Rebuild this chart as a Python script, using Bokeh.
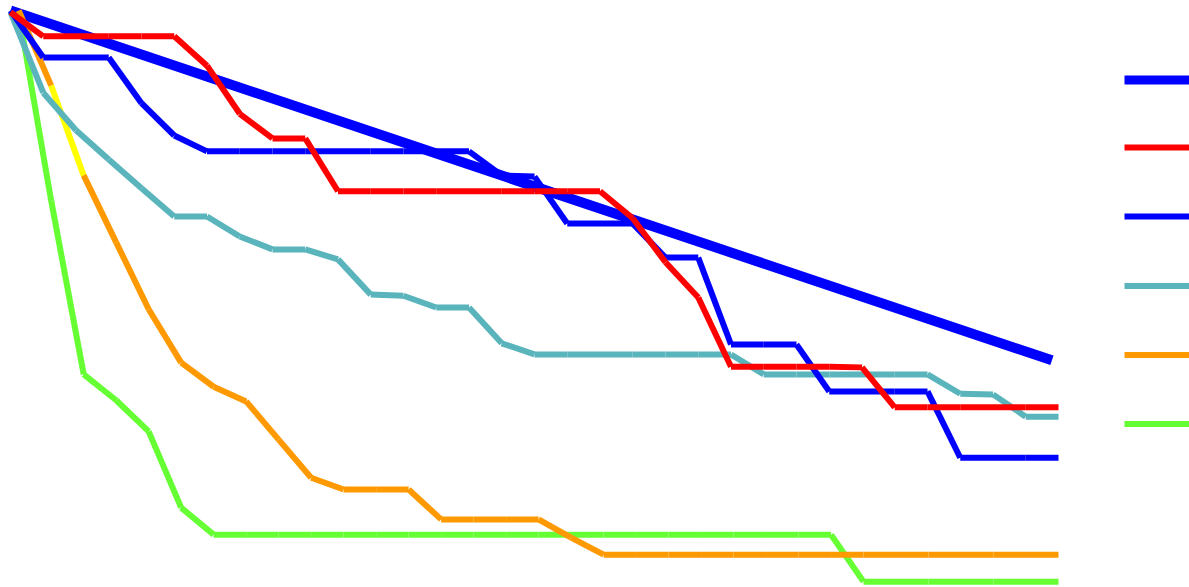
from bokeh.plotting import figure
from bokeh.models import Range1d, ColumnDataSource
from bokeh.embed import file_html
from bokeh.resources import INLINE

# ---- data (values on a 0-100 scale) ----
steps = list(range(33))
steps_late = [0.25 + j * 31.75 / 32 for j in range(33)]

trend_x = [0, 31.8]
trend_y = [98.3, 38.7]

red_y = [98.0, 93.9, 93.9, 93.9, 93.9, 93.9, 88.9, 80.7, 76.5, 76.5, 67.5, 67.5,
         67.5, 67.5, 67.5, 67.5, 67.5, 67.5, 67.5, 62.9, 55.4, 49.4, 37.6, 37.6,
         37.6, 37.6, 37.5, 30.7, 30.7, 30.7, 30.7, 30.7, 30.7]
blue_y = [98.3, 90.3, 90.3, 90.3, 82.5, 77.0, 74.3, 74.3, 74.3, 74.3, 74.3, 74.3,
          74.3, 74.3, 74.3, 70.2, 70.0, 62.0, 62.0, 62.0, 56.2, 56.2, 41.4, 41.4,
          41.4, 33.4, 33.4, 33.4, 33.4, 22.1, 22.1, 22.1, 22.1]
teal_y = [98.0, 84.3, 77.9, 72.9, 68.0, 63.2, 63.2, 59.8, 57.6, 57.6, 55.9, 49.9,
          49.7, 47.7, 47.7, 41.6, 39.7, 39.7, 39.7, 39.7, 39.7, 39.7, 39.7, 36.3,
          36.3, 36.3, 36.3, 36.3, 36.3, 33.0, 32.9, 29.1, 29.1]
orange_y = [98.3, 85.5, 70.2, 58.8, 47.4, 38.3, 34.2, 31.7, 25.2, 18.7, 16.7, 16.7,
            16.7, 11.6, 11.6, 11.6, 11.6, 8.5, 5.6, 5.6, 5.6, 5.6, 5.6, 5.6,
            5.6, 5.6, 5.6, 5.6, 5.6, 5.6, 5.6, 5.6, 5.6]
orange_highlight = [1]
green_y = [98.0, 65.9, 36.3, 31.9, 26.6, 13.6, 9.0, 9.0, 9.0, 9.0, 9.0, 9.0,
           9.0, 9.0, 9.0, 9.0, 9.0, 9.0, 9.0, 9.0, 9.0, 9.0, 9.0, 9.0,
           9.0, 9.0, 1.0, 1.0, 1.0, 1.0, 1.0, 1.0, 1.0]

# ---- styles ----
C_TREND, C_RED, C_BLUE = "#0000FF", "#FF0000", "#0000FF"
C_TEAL, C_ORANGE, C_GREEN, C_YELLOW = "#5AB4BC", "#FF9900", "#66FF33", "#FFFF00"

W, H = 1189, 587
p = figure(width=W, height=H, output_backend="svg", toolbar_location=None,
           x_axis_location=None, y_axis_location=None, min_border=0,
           x_range=Range1d(-10 / 32.75, -10 / 32.75 + W / 32.75),
           y_range=Range1d(0, 100))
p.extra_x_ranges = {"px": Range1d(0, W)}
p.extra_y_ranges = {"px": Range1d(H, 0)}
p.grid.visible = False
p.outline_line_color = None
p.background_fill_color = "white"
p.border_fill_color = "white"
p.styles = {"position": "fixed", "left": "0px", "top": "0px"}


def seg_source(xs, ys, color, special=None, special_color=None):
    cols = [color] * (len(xs) - 1)
    for k in (special or []):
        cols[k] = special_color
    return ColumnDataSource(dict(x0=xs[:-1], x1=xs[1:], y0=ys[:-1], y1=ys[1:], c=cols))


p.line(trend_x, trend_y, line_color=C_TREND, line_width=10)
p.segment("x0", "y0", "x1", "y1", source=seg_source(steps_late, green_y, C_GREEN),
          line_color="c", line_width=6)
p.segment("x0", "y0", "x1", "y1",
          source=seg_source(steps_late, orange_y, C_ORANGE, orange_highlight, C_YELLOW),
          line_color="c", line_width=6)
p.segment("x0", "y0", "x1", "y1", source=seg_source(steps, teal_y, C_TEAL),
          line_color="c", line_width=6)
p.segment("x0", "y0", "x1", "y1", source=seg_source(steps, blue_y, C_BLUE),
          line_color="c", line_width=6)
p.segment("x0", "y0", "x1", "y1", source=seg_source(steps, red_y, C_RED),
          line_color="c", line_width=6)

# ---- legend swatches (no labels in the original), placed in pixel space ----
key_colors = [C_TREND, C_RED, C_BLUE, C_TEAL, C_ORANGE, C_GREEN]
key_widths = [9, 6, 6, 6, 6, 6]
key_rows = [79.5, 147, 216, 285.5, 354.5, 423.5]
p.segment(x0=[1124] * 6, x1=[1192] * 6, y0=key_rows, y1=key_rows,
          line_color=key_colors, line_width=key_widths,
          x_range_name="px", y_range_name="px")

open("out.html", "w").write(file_html(p, INLINE))
